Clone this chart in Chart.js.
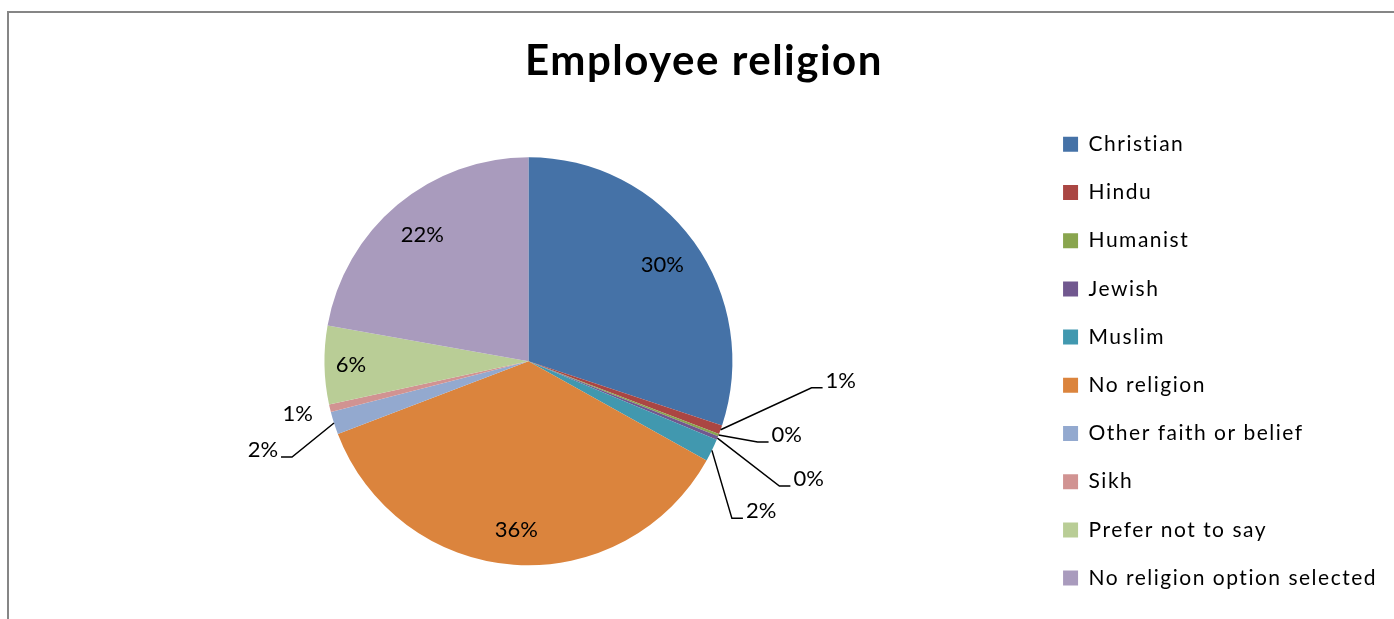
<!DOCTYPE html>
<html>
<head>
<meta charset="utf-8">
<title>Employee religion</title>
<script src="https://cdn.jsdelivr.net/npm/chart.js@4.4.1/dist/chart.umd.min.js"></script>
<style>
  html, body { margin: 0; padding: 0; background: #fff; }
  #frame { position: absolute; left: 7px; top: 11px; width: 1500px; height: 700px;
           border-left: 2px solid #868686; border-top: 2px solid #868686; }
  #wrap { position: absolute; left: 0; top: 0; width: 1394px; height: 619px; }
</style>
</head>
<body>
<div id="frame"></div>
<div id="wrap"><canvas id="religionChart"></canvas></div>
<script>
// data (percent of employees)
const categories = ['Christian', 'Hindu', 'Humanist', 'Jewish', 'Muslim', 'No religion',
  'Other faith or belief', 'Sikh', 'Prefer not to say', 'No religion option selected'];
const employeeShare = [30.1, 0.7, 0.2, 0.3, 1.8, 36.1, 1.8, 0.6, 6.2, 22.2];

const sliceColours = ['#4572A7', '#AA4643', '#89A54E', '#71588F', '#4198AF',
  '#DB843D', '#93A9CF', '#D19392', '#B9CD96', '#A99BBD'];

// small slices get their label outside, with a leader line from the rim
// dx/dy = where the elbow sits relative to the rim point of the slice
const callouts = {
  'Hindu': { dx: 91, dy: -42, line: true },
  'Humanist': { dx: 39, dy: 7, line: true },
  'Jewish': { dx: 62, dy: 48, line: true },
  'Muslim': { dx: 20, dy: 68, line: true },
  'Other faith or belief': { dx: -42, dy: 34, line: true },
  'Sikh': { dx: -17, dy: 13, line: false }
};
// inside labels sit at this fraction of the radius (Excel "best fit" pushes some outward)
const insideRadius = { 'No religion': 0.83, 'Prefer not to say': 0.87 };

const labelFont = 'Lato';

// Lato is a bit narrower than the original font, so spread the title/legend text a little
const textSpacing = {
  id: 'textSpacing',
  beforeLayout(chart) { chart.ctx.letterSpacing = '1.5px'; },
  beforeDraw(chart) { chart.ctx.letterSpacing = '1.5px'; }
};

// plugin untuk label persen di tiap potongan
const sliceLabels = {
  id: 'sliceLabels',
  afterDatasetsDraw(chart) {
    const ctx = chart.ctx;
    const meta = chart.getDatasetMeta(0);
    const values = chart.data.datasets[0].data;
    const total = values.reduce((a, b) => a + b, 0);
    ctx.save();
    ctx.letterSpacing = '0px';
    ctx.font = '22px ' + labelFont;
    ctx.fillStyle = '#000';
    ctx.strokeStyle = '#000';
    ctx.lineWidth = 1.5;
    meta.data.forEach((arc, i) => {
      const p = arc.getProps(['x', 'y', 'startAngle', 'endAngle', 'outerRadius'], true);
      const mid = (p.startAngle + p.endAngle) / 2;
      const name = chart.data.labels[i];
      const text = Math.round(values[i] / total * 100) + '%';
      const c = callouts[name];
      if (!c) {
        const r = p.outerRadius * (insideRadius[name] || 0.81);
        ctx.textAlign = 'center';
        ctx.textBaseline = 'middle';
        ctx.fillText(text, p.x + Math.cos(mid) * r, p.y + Math.sin(mid) * r);
        return;
      }
      const rimX = p.x + Math.cos(mid) * p.outerRadius;
      const rimY = p.y + Math.sin(mid) * p.outerRadius;
      const ex = rimX + c.dx, ey = rimY + c.dy;
      const side = c.dx < 0 ? -1 : 1;
      ctx.textAlign = side < 0 ? 'right' : 'left';
      ctx.textBaseline = 'alphabetic';
      if (c.line) {
        ctx.beginPath();
        ctx.moveTo(rimX, rimY);
        ctx.lineTo(ex, ey);
        ctx.lineTo(ex + side * 11, ey);
        ctx.stroke();
        ctx.fillText(text, ex + side * 14, ey);
      } else {
        ctx.fillText(text, ex, ey);
      }
    });
    ctx.restore();
  }
};

const ctx = document.getElementById('religionChart').getContext('2d');
const religionChart = new Chart(ctx, {
  type: 'pie',
  data: {
    labels: categories,
    datasets: [{
      data: employeeShare,
      backgroundColor: sliceColours,
      borderWidth: 0,
      radius: 204
    }]
  },
  options: {
    responsive: true,
    maintainAspectRatio: false,
    animation: false,
    events: [],
    layout: { padding: { left: 21, right: 7, top: 0, bottom: 1 } },
    plugins: {
      title: {
        display: true,
        text: 'Employee religion',
        color: '#000',
        font: { family: labelFont, size: 42, weight: 'bold' },
        padding: { top: 36, bottom: 18 }
      },
      legend: {
        position: 'right',
        align: 'center',
        fullSize: false,
        labels: {
          color: '#000',
          font: { family: labelFont, size: 21 },
          boxWidth: 15,
          boxHeight: 15,
          padding: 27.2
        }
      },
      tooltip: { enabled: false }
    }
  },
  plugins: [textSpacing, sliceLabels]
});
</script>
</body>
</html>
